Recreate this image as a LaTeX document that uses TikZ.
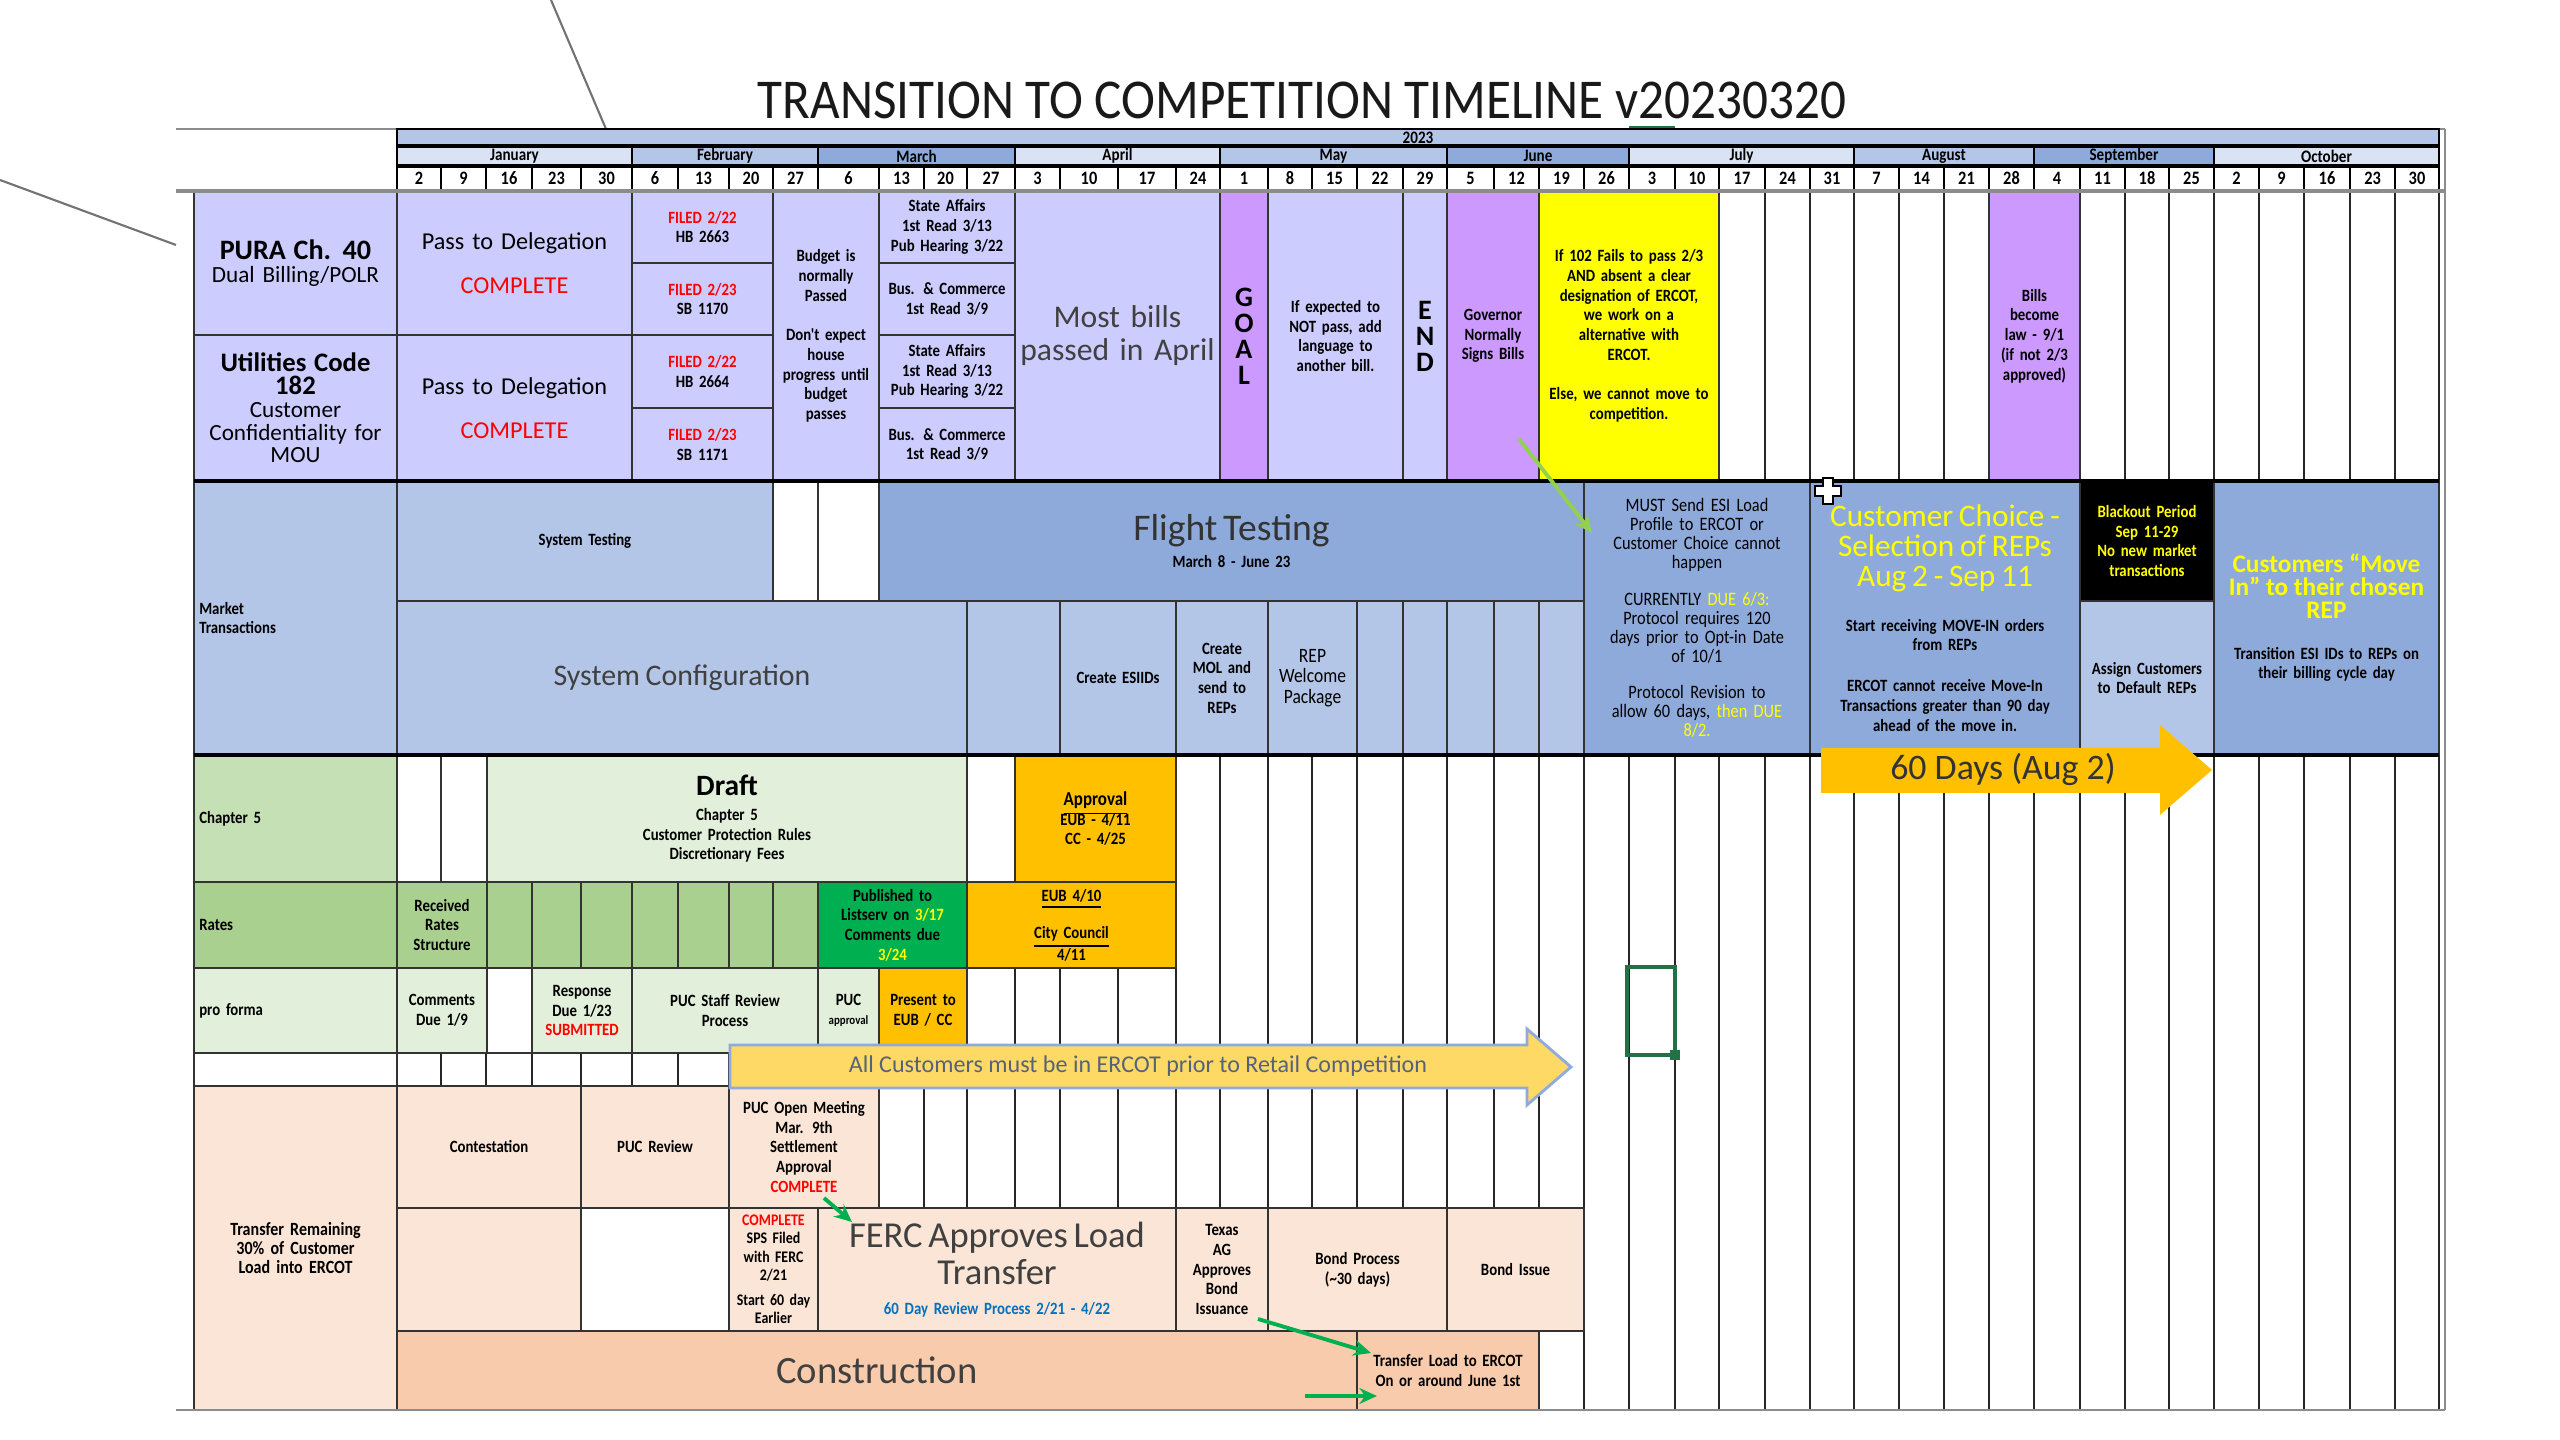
\documentclass[tikz,border=0pt]{standalone}
\usepackage{fontspec}
\setmainfont{Carlito}
\newfontfamily\narrowfont{Carlito}[FakeStretch=0.86]
\newfontfamily\titlefont{Carlito}[FakeStretch=0.91]
\usepackage{xcolor}
\usepackage{tikz}
\usetikzlibrary{
  positioning,
  arrows.meta,
  calc
}
\definecolor{lavcell}{HTML}{CCCCFF}
\definecolor{purpcell}{HTML}{CC99FF}
\definecolor{yelcell}{HTML}{FFFF00}
\definecolor{paleblue}{HTML}{DAE3F3}
\definecolor{midblue}{HTML}{B4C6E7}
\definecolor{deepblue}{HTML}{8EAADB}
\definecolor{sagegreen}{HTML}{C5E0B4}
\definecolor{mintgreen}{HTML}{E2EFDA}
\definecolor{leafgreen}{HTML}{A9D08E}
\definecolor{brightgreen}{HTML}{00B050}
\definecolor{amber}{HTML}{FFC000}
\definecolor{peachlight}{HTML}{FBE5D6}
\definecolor{peachdeep}{HTML}{F8CBAD}
\definecolor{banneryellow}{HTML}{FFD966}
\definecolor{banneredge}{HTML}{8FAADC}
\definecolor{bannertext}{HTML}{56627A}
\definecolor{limegreen}{HTML}{92D050}
\definecolor{inkgray}{HTML}{404040}
\definecolor{xlgreen}{HTML}{217346}
\definecolor{reviewblue}{HTML}{0070C0}

\newcommand\tinyfont{\narrowfont\bfseries\fontsize{4.9}{5.6}\selectfont}
\newcommand\midfont{\normalfont\fontsize{6.9}{8.3}\selectfont}

% cell on the sheet grid: name, x1, y1, x2, y2, style, text
\newcommand\cellnode[7]{%
  \pgfmathsetmacro\cellw{(#4-#2)*0.28453}%
  \pgfmathsetmacro\cellh{(#5-#3)*0.28453}%
  \pgfmathsetmacro\celltw{max(\cellw-3,2)}%
  \node[cell,#6,minimum width=\cellw pt,minimum height=\cellh pt,
    text width=\celltw pt] (#1) at ({(#2+#4)/2},{(#3+#5)/2}) {#7};}

\begin{document}
\begin{tikzpicture}[
  x=0.1mm, y=-0.1mm,
  >=Stealth,
  % --- cell styles ---
  cell/.style={draw=black!80, line width=0.5pt, inner xsep=1.5pt,
    inner ysep=0.4pt, outer sep=0pt, align=center,
    font={\tinyfont\lineskiplimit=-20pt}, text=black},
  headcell/.style={draw=black, font=\narrowfont\bfseries\fontsize{5}{5}\selectfont},
  rowlabel/.style={align=left},
  billcell/.style={fill=lavcell},
  signcell/.style={fill=purpcell},
  warncell/.style={fill=yelcell},
  mktcell/.style={fill=midblue},
  mktdeep/.style={fill=deepblue},
  sagecell/.style={fill=sagegreen},
  chapcell/.style={fill=mintgreen},
  ratecell/.style={fill=leafgreen},
  approvecell/.style={fill=amber},
  xfercell/.style={fill=peachlight},
  buildcell/.style={fill=peachdeep},
  blankcell/.style={fill=white},
  lettercol/.style={font={\normalfont\bfseries\fontsize{8}{7.4}\selectfont\lineskiplimit=-20pt}},
  % --- lines ---
  gridline/.style={black!85, line width=0.5pt},
  thickline/.style={black, line width=1.4pt},
  sheetline/.style={black!45, line width=0.8pt},
  nudge/.style={-{Stealth[length=5pt,width=4.5pt]}, line width=1.1pt, brightgreen},
]
\useasboundingbox (0,0) rectangle (2560,1440);
\fill[white] (0,0) rectangle (2560,1440);

% stray lines at the top left
\draw[black!55, line width=0.6pt] (551,0) -- (606,129);
\draw[black!55, line width=0.6pt] (0,180) -- (176,245);

% Title
\node[font=\titlefont\fontsize{16}{18}\selectfont, text=black!90] (title) at (1302,100)
  {TRANSITION TO COMPETITION TIMELINE v20230320};

% Header: year, months, weeks
\draw[sheetline] (176,129) -- (2445,129);
\draw[xlgreen, line width=1.2pt] (1629,128) -- (1675,128);
\cellnode{year}{397}{129}{2439}{146}{headcell, fill=midblue}{2023}
\foreach \xa/\xb/\m/\c in {397/632/January/paleblue, 632/818/February/midblue,
    818/1015/March/deepblue, 1015/1220/April/paleblue, 1220/1447/May/midblue,
    1447/1629/June/deepblue, 1629/1854/July/paleblue, 1854/2034/August/midblue,
    2034/2214/September/deepblue, 2214/2439/October/paleblue}
  {\cellnode{m\m}{\xa}{146}{\xb}{166}{headcell, fill=\c}{\m}}
\foreach \xa/\xb/\d [count=\i] in {397/441/2, 441/486/9, 486/532/16, 532/581/23,
    581/632/30, 632/678/6, 678/729/13, 729/773/20, 773/818/27, 818/879/6,
    879/924/13, 924/967/20, 967/1015/27, 1015/1060/3, 1060/1118/10, 1118/1176/17,
    1176/1220/24, 1220/1268/1, 1268/1312/8, 1312/1357/15, 1357/1403/22,
    1403/1447/29, 1447/1494/5, 1494/1539/12, 1539/1584/19, 1584/1629/26,
    1629/1675/3, 1675/1719/10, 1719/1765/17, 1765/1810/24, 1810/1854/31,
    1854/1899/7, 1899/1944/14, 1944/1989/21, 1989/2034/28, 2034/2080/4,
    2080/2125/11, 2125/2169/18, 2169/2214/25, 2214/2259/2, 2259/2304/9,
    2304/2350/16, 2350/2395/23, 2395/2439/30}
  {\cellnode{day\i}{\xa}{166}{\xb}{190}{headcell, fill=white,
    font=\narrowfont\bfseries\fontsize{5.4}{6}\selectfont}{\d}}
\draw[thickline] (397,146) -- (2439,146);
\draw[thickline] (397,166) -- (2439,166);

% week grid behind the cells
\foreach \x in {397,441,486,532,581,632,678,729,773,818,879,924,967,1015,1060,
    1118,1176,1220,1268,1312,1357,1403,1447,1494,1539,1584,1629,1675,1719,1765,
    1810,1854,1899,1944,1989,2034,2080,2125,2169,2214,2259,2304,2350,2395,2439}
  \draw[gridline] (\x,191) -- (\x,1410);

% Rows 1-2: legislation
\cellnode{pura}{194}{191}{397}{335}{billcell,
    font={\normalfont\fontsize{6.6}{6.5}\selectfont\lineskiplimit=-20pt}}
  {{\bfseries\fontsize{8}{6.5}\selectfont PURA Ch. 40}\\Dual Billing/POLR}
\cellnode{ucode}{194}{335}{397}{481}{billcell,
    font={\normalfont\fontsize{6.6}{6.5}\selectfont\lineskiplimit=-20pt}}
  {{\bfseries\fontsize{7.6}{6.5}\selectfont Utilities Code}\\{\bfseries\fontsize{7.6}{6.5}\selectfont 182}\\Customer\\Confidentiality for\\MOU}
\cellnode{passa}{397}{191}{632}{335}{billcell, font=\midfont}
  {Pass to Delegation\\[4.2pt]\textcolor{red}{COMPLETE}}
\cellnode{passb}{397}{335}{632}{481}{billcell, font=\midfont}
  {Pass to Delegation\\[4.2pt]\textcolor{red}{COMPLETE}}
\cellnode{filedhba}{632}{191}{773}{263}{billcell}{\textcolor{red}{FILED 2/22}\\HB 2663}
\cellnode{filedsba}{632}{263}{773}{335}{billcell}{\textcolor{red}{FILED 2/23}\\SB 1170}
\cellnode{filedhbb}{632}{335}{773}{408}{billcell}{\textcolor{red}{FILED 2/22}\\HB 2664}
\cellnode{filedsbb}{632}{408}{773}{481}{billcell}{\textcolor{red}{FILED 2/23}\\SB 1171}
\cellnode{budget}{773}{191}{879}{481}{billcell}
  {Budget is\\normally\\Passed\\[5.6pt]Don't expect\\house\\progress until\\budget\\passes}
\cellnode{statea}{879}{191}{1015}{263}{billcell}{State Affairs\\1st Read 3/13\\Pub Hearing 3/22}
\cellnode{busa}{879}{263}{1015}{335}{billcell}{Bus. \& Commerce\\1st Read 3/9}
\cellnode{stateb}{879}{335}{1015}{408}{billcell}{State Affairs\\1st Read 3/13\\Pub Hearing 3/22}
\cellnode{busb}{879}{408}{1015}{481}{billcell}{Bus. \& Commerce\\1st Read 3/9}
\cellnode{mostbills}{1015}{191}{1220}{481}{billcell, text=inkgray, inner xsep=0.5pt,
    font=\normalfont\fontsize{9}{9.4}\selectfont}
  {Most bills\\passed in April}
\cellnode{goal}{1220}{191}{1268}{481}{signcell, lettercol}{G\\O\\A\\L}
\cellnode{notpass}{1268}{191}{1403}{481}{billcell}
  {If expected to\\NOT pass, add\\language to\\another bill.}
\cellnode{endcell}{1403}{191}{1447}{481}{billcell, lettercol}{E\\N\\D}
\cellnode{governor}{1447}{191}{1539}{481}{signcell}{Governor\\Normally\\Signs Bills}
\cellnode{ifcell}{1539}{191}{1719}{481}{warncell}
  {If 102 Fails to pass 2/3\\AND absent a clear\\designation of ERCOT,\\we work on a\\alternative with\\ERCOT.\\[5.6pt]Else, we cannot move to\\competition.}
\cellnode{billslaw}{1989}{191}{2080}{481}{signcell}
  {Bills\\become\\law - 9/1\\(if not 2/3\\approved)}

% Row 3: market transactions
\cellnode{market}{194}{481}{397}{755}{mktcell, rowlabel}{Market\\Transactions}
\cellnode{systest}{397}{481}{773}{601}{mktcell}{System Testing}
\cellnode{mtwhitea}{773}{481}{818}{601}{blankcell}{}
\cellnode{mtwhiteb}{818}{481}{879}{601}{blankcell}{}
\cellnode{flight}{879}{481}{1584}{601}{mktdeep}
  {{\normalfont\fontsize{10.7}{11}\selectfont\color{black!80}Flight Testing}\\[2.3pt]March 8 - June 23}
\cellnode{sysconf}{397}{601}{967}{755}{mktcell}
  {{\normalfont\fontsize{8.5}{9.6}\selectfont\color{inkgray}System Configuration}}
\cellnode{mtgap}{967}{601}{1060}{755}{mktcell}{}
\cellnode{esiid}{1060}{601}{1176}{755}{mktcell}{Create ESIIDs}
\cellnode{mol}{1176}{601}{1268}{755}{mktcell}{Create\\MOL and\\send to\\REPs}
\cellnode{welcome}{1268}{601}{1357}{755}{mktcell,
    font=\narrowfont\fontsize{5.8}{5.8}\selectfont}{REP\\Welcome\\Package}
\foreach \xa/\xb [count=\i] in {1357/1403, 1403/1447, 1447/1494, 1494/1539, 1539/1584}
  {\cellnode{mtcol\i}{\xa}{601}{\xb}{755}{mktcell}{}}
\cellnode{must}{1584}{481}{1810}{755}{mktdeep,
    font={\narrowfont\fontsize{5.4}{5.4}\selectfont\lineskiplimit=-20pt}}
  {MUST Send ESI Load\\Profile to ERCOT or\\Customer Choice cannot\\happen\\[5pt]CURRENTLY \textcolor{yelcell}{DUE 6/3:}\\Protocol requires 120\\days prior to Opt-in Date\\of 10/1\\[5pt]Protocol Revision to\\allow 60 days, \textcolor{yelcell}{then DUE}\\\textcolor{yelcell}{8/2.}}
\cellnode{choice}{1810}{481}{2080}{755}{mktdeep}
  {{\normalfont\fontsize{8.9}{8.6}\selectfont\color{yelcell}Customer Choice -}\\[3pt]{\normalfont\fontsize{8.9}{8.6}\selectfont\color{yelcell}Selection of REPs}\\[3pt]{\normalfont\fontsize{8.9}{8.6}\selectfont\color{yelcell}Aug 2 - Sep 11}\\[7pt]Start receiving MOVE-IN orders\\from REPs\\[6pt]ERCOT cannot receive Move-In\\Transactions greater than 90 day\\ahead of the move in.}
\cellnode{blackout}{2080}{481}{2214}{601}{fill=black, text=yelcell}
  {Blackout Period\\Sep 11-29\\No new market\\transactions}
\cellnode{assign}{2080}{601}{2214}{755}{mktcell}{Assign Customers\\to Default REPs}
\cellnode{movein}{2214}{481}{2439}{755}{mktdeep}
  {{\normalfont\bfseries\fontsize{7.2}{6.5}\selectfont\color{yelcell}Customers ``Move}\\[0.9pt]{\normalfont\bfseries\fontsize{7.2}{6.5}\selectfont\color{yelcell}In'' to their chosen}\\[0.9pt]{\normalfont\bfseries\fontsize{7.2}{6.5}\selectfont\color{yelcell}REP}\\[6pt]Transition ESI IDs to REPs on\\their billing cycle day}

% Row 4: chapter 5
\cellnode{chfive}{194}{755}{397}{882}{sagecell, rowlabel}{Chapter 5}
\cellnode{chwhitea}{397}{755}{441}{882}{blankcell}{}
\cellnode{chwhiteb}{441}{755}{487}{882}{blankcell}{}
\cellnode{draft}{487}{755}{967}{882}{chapcell}
  {{\normalfont\bfseries\fontsize{8.4}{9}\selectfont Draft}\\[1.6pt]Chapter 5\\Customer Protection Rules\\Discretionary Fees}
\cellnode{chwhitec}{967}{755}{1015}{882}{blankcell}{}
\cellnode{approval}{1015}{755}{1176}{882}{approvecell}
  {{\fontsize{5.6}{6.2}\selectfont\underline{Approval}}\\EUB - 4/11\\CC - 4/25}

% Row 5: rates
\cellnode{rates}{194}{882}{397}{968}{ratecell, rowlabel}{Rates}
\cellnode{received}{397}{882}{487}{968}{ratecell}{Received\\Rates\\Structure}
\foreach \xa/\xb [count=\i] in {487/532, 532/581, 581/632, 632/678, 678/729, 729/773, 773/818}
  {\cellnode{ratecol\i}{\xa}{882}{\xb}{968}{ratecell}{}}
\cellnode{published}{818}{882}{967}{968}{fill=brightgreen}
  {Published to\\Listserv on \textcolor{yelcell}{3/17}\\Comments due\\\textcolor{yelcell}{3/24}}
\cellnode{eub}{967}{882}{1176}{968}{approvecell}
  {\underline{EUB 4/10}\\[5pt]\underline{City Council}\\[0.6pt]4/11}

% Row 6: pro forma
\cellnode{proforma}{194}{968}{397}{1053}{chapcell, rowlabel}{pro forma}
\cellnode{comments}{397}{968}{487}{1053}{chapcell}{Comments\\Due 1/9}
\cellnode{pfwhite}{487}{968}{532}{1053}{blankcell}{}
\cellnode{response}{532}{968}{632}{1053}{chapcell}
  {Response\\Due 1/23\\\textcolor{red}{SUBMITTED}}
\cellnode{staffrev}{632}{968}{818}{1053}{chapcell}{PUC Staff Review\\Process}
\cellnode{pucapproval}{818}{968}{879}{1053}{chapcell}
  {PUC\\{\fontsize{3.6}{4}\selectfont approval}}
\cellnode{present}{879}{968}{967}{1053}{approvecell}{Present to\\EUB / CC}
\cellnode{spacer}{194}{1053}{397}{1086}{blankcell}{}

% Rows 7-9: transfer of load
\cellnode{transfer}{194}{1086}{397}{1410}{xfercell,
    font=\narrowfont\bfseries\fontsize{5.3}{5.5}\selectfont}
  {Transfer Remaining\\30\% of Customer\\Load into ERCOT}
\cellnode{contest}{397}{1086}{581}{1208}{xfercell}{Contestation}
\cellnode{pucreview}{581}{1086}{729}{1208}{xfercell}{PUC Review}
\cellnode{openmeeting}{729}{1086}{879}{1208}{xfercell}
  {PUC Open Meeting\\Mar. 9th\\Settlement\\Approval\\\textcolor{red}{COMPLETE}}
\cellnode{tfill}{397}{1208}{581}{1331}{xfercell}{}
\cellnode{twhite}{581}{1208}{729}{1331}{blankcell}{}
\cellnode{spsfiled}{729}{1208}{818}{1331}{xfercell,
    font={\narrowfont\bfseries\fontsize{4.6}{5.2}\selectfont\lineskiplimit=-20pt}}
  {\textcolor{red}{COMPLETE}\\SPS Filed\\with FERC\\2/21\\[2pt]Start 60 day\\Earlier}
\cellnode{ferc}{818}{1208}{1176}{1331}{xfercell}
  {{\normalfont\fontsize{10.4}{11}\selectfont\color{inkgray}FERC Approves Load}\\[5.1pt]{\normalfont\fontsize{10.4}{11}\selectfont\color{inkgray}Transfer}\\[2.8pt]\textcolor{reviewblue}{60 Day Review Process 2/21 - 4/22}}
\cellnode{texasag}{1176}{1208}{1268}{1331}{xfercell}{Texas\\AG\\Approves\\Bond\\Issuance}
\cellnode{bondproc}{1268}{1208}{1447}{1331}{xfercell}{Bond Process\\(\textasciitilde30 days)}
\cellnode{bondissue}{1447}{1208}{1584}{1331}{xfercell}{Bond Issue}
\cellnode{construction}{397}{1331}{1357}{1410}{buildcell}
  {{\normalfont\fontsize{11}{12}\selectfont\color{inkgray}Construction}}
\cellnode{loadxfer}{1357}{1331}{1539}{1410}{buildcell}
  {Transfer Load to ERCOT\\On or around June 1st}

% row separators
\draw[sheetline, line width=1.1pt] (176,191) -- (2445,191);
\draw[thickline] (194,481) -- (2439,481);
\draw[thickline] (194,755) -- (2439,755);
\draw[sheetline] (176,1410) -- (2445,1410);
\draw[sheetline] (2445,129) -- (2445,1410);

% ─── Banner arrows ───────────────────────────────────────────────────────
\draw[fill=banneryellow, draw=banneredge, line width=0.8pt]
  (730,1045) -- (1527,1045) -- (1527,1029) -- (1571,1067) -- (1527,1105)
  -- (1527,1088) -- (730,1088) -- cycle;
\node[font=\normalfont\fontsize{6.85}{7}\selectfont, text=bannertext] (retail) at (1138,1066)
  {All Customers must be in ERCOT prior to Retail Competition};
\fill[amber] (1821,748) -- (2160,748) -- (2160,725) -- (2212,770) -- (2160,815)
  -- (2160,793) -- (1821,793) -- cycle;
\node[font=\normalfont\fontsize{10.2}{11}\selectfont, text=black!80] (sixty) at (2003,769)
  {60 Days (Aug 2)};

% ─── Green arrows ────────────────────────────────────────────────────────
\draw[nudge, limegreen] ($(governor.south east)+(-20,-42)$) -- ($(must.north west)+(8,52)$);
\draw[nudge] ($(openmeeting.south)+(20,-10)$) -- ($(ferc.north west)+(34,14)$);
\draw[nudge] ($(texasag.south east)+(-10,-12)$) -- ($(loadxfer.north west)+(14,22)$);
\draw[nudge] ($(construction.south east)+(-52,-14)$) -- ($(loadxfer.south west)+(20,-14)$);

% sheet selection and cursor
\draw[xlgreen, line width=1.1pt] (1627,967) rectangle (1675,1055);
\fill[xlgreen] (1670,1050) rectangle (1680,1060);
\draw[fill=white, line width=0.7pt] (1823,478) -- (1833,478) -- (1833,486) -- (1841,486)
  -- (1841,496) -- (1833,496) -- (1833,504) -- (1823,504) -- (1823,496) -- (1815,496)
  -- (1815,486) -- (1823,486) -- cycle;

\end{tikzpicture}
\end{document}
